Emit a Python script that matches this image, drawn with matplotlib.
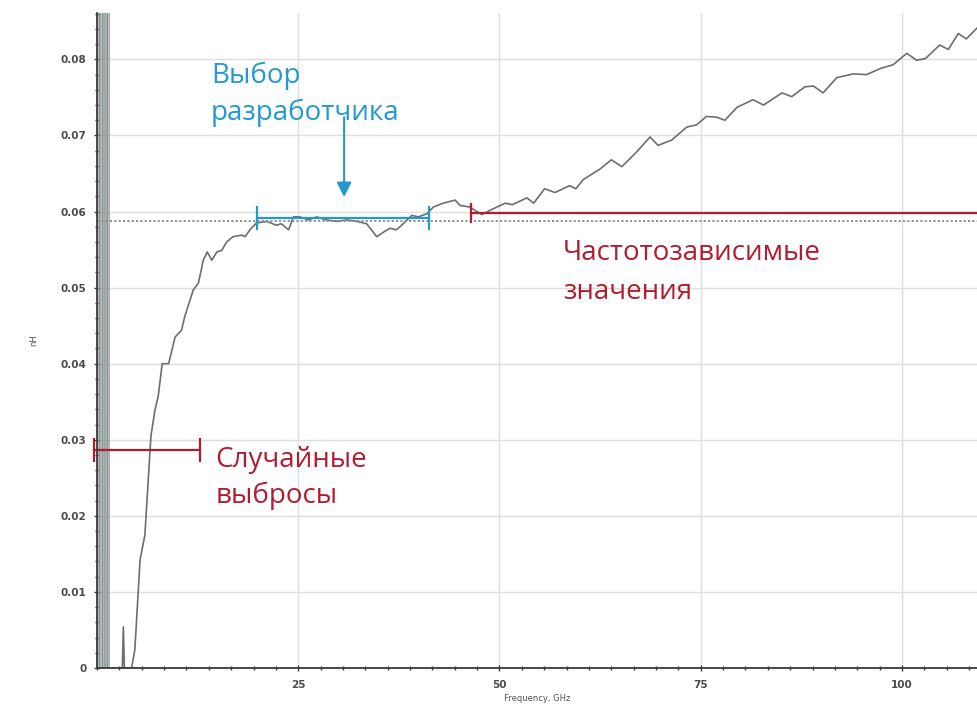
import matplotlib
matplotlib.use("Agg")
import matplotlib.pyplot as plt
from matplotlib.ticker import AutoMinorLocator, FixedLocator, FixedFormatter

# Inductance sweep (frequency in GHz, inductance in nH)
freq_outliers = [0.0, 0.2, 0.4, 0.6, 0.8, 1.0, 1.2, 1.4, 1.6]
ind_outliers = [1.0, -1.0, 1.0, -1.0, 1.0, -1.0, 1.0, -1.0, 1.0]

freq = [2.0, 3.15, 3.27, 3.4, 4.3, 4.7, 5.35, 5.95, 6.7, 7.2, 7.6, 8.1, 8.9,
        9.7, 10.5, 10.9, 11.96, 12.6, 13.2, 13.7, 14.25, 14.9, 15.5, 16.1,
        16.9, 18.0, 18.4, 19.0, 19.8, 21.1, 22.3, 22.9, 23.8, 24.4, 25.2,
        26.3, 27.3, 28.5, 29.8, 31.0, 32.3, 33.5, 34.75, 35.6, 36.4, 37.2,
        38.05, 39.1, 39.9, 40.96, 41.8, 43.0, 44.5, 45.1, 46.3, 47.8, 48.9,
        50.7, 51.6, 53.4, 54.25, 55.6, 56.9, 58.7, 59.5, 60.4, 62.5, 63.9,
        65.2, 67.0, 68.7, 69.7, 71.4, 73.25, 74.5, 75.7, 77.0, 78.0, 79.5,
        81.5, 82.8, 85.1, 86.3, 87.95, 89.0, 90.2, 91.9, 93.95, 95.6, 97.3,
        98.9, 100.6, 101.8, 102.9, 104.7, 105.75, 107.0, 108.0, 109.3]
inductance = [0.0, 0.0, 0.0054, 0.0, 0.0, 0.0024, 0.0142, 0.0175, 0.0305,
              0.0339, 0.0357, 0.0400, 0.0400, 0.0435, 0.0444, 0.0462, 0.0497,
              0.0506, 0.0536, 0.0547, 0.0536, 0.0547, 0.0549, 0.0560, 0.0567,
              0.0569, 0.0567, 0.0576, 0.0585, 0.0587, 0.0582, 0.0584, 0.0576,
              0.0593, 0.0593, 0.0589, 0.0593, 0.0589, 0.0587, 0.0589, 0.0587,
              0.0584, 0.0567, 0.0573, 0.0578, 0.0576, 0.0584, 0.0595, 0.0593,
              0.0597, 0.0606, 0.0611, 0.0615, 0.0608, 0.0606, 0.0596, 0.0602,
              0.0611, 0.0609, 0.0618, 0.0611, 0.0630, 0.0625, 0.0634, 0.0630,
              0.0642, 0.0656, 0.0668, 0.0659, 0.0678, 0.0698, 0.0687, 0.0694,
              0.0711, 0.0714, 0.0725, 0.0724, 0.0720, 0.0737, 0.0747, 0.0740,
              0.0756, 0.0751, 0.0764, 0.0765, 0.0756, 0.0776, 0.0781, 0.0780,
              0.0788, 0.0793, 0.0808, 0.0799, 0.0801, 0.0819, 0.0813, 0.0834,
              0.0827, 0.0841]

reference_level = 0.0587

x_ticks = [25, 50, 75, 100]
x_tick_labels = ["25", "50", "75", "100"]
y_ticks = [0, 0.01, 0.02, 0.03, 0.04, 0.05, 0.06, 0.07, 0.08]
y_tick_labels = ["0", "0.01", "0.02", "0.03", "0.04", "0.05", "0.06", "0.07", "0.08"]

# Annotated frequency ranges: (start GHz, end GHz, level nH)
designer_range = (19.84, 41.28, 0.0591)
outlier_range = (-0.33, 12.8, 0.0287)
dispersive_range = (46.4, 109.32, 0.0598)

BLUE = "#2399d0"
RED = "#b11d2f"
CURVE = "#6e6e6e"
TEXT_FONT = ["Open Sans", "DejaVu Sans"]

fig = plt.figure(figsize=(9.77, 7.04), dpi=100)
ax = fig.add_axes([97 / 977, 1 - 668 / 704, 880 / 977, 655 / 704])

ax.set_xlim(0, 109.32)
ax.set_ylim(0, 0.0861)

ax.grid(True, which="major", color="#dedede", linewidth=1.0)
ax.set_axisbelow(True)

ax.plot(freq_outliers, ind_outliers, color="#869292", linewidth=0.9)
ax.plot(freq, inductance, color=CURVE, linewidth=1.2)
ax.axhline(reference_level, color="#8a8a8a", linestyle=(0, (1.2, 1.2)), linewidth=1.3)

# Range brackets
x0, x1, y = designer_range
ax.plot([x0, x1], [y, y], color=BLUE, linewidth=1.6, marker="|",
        markersize=17, markeredgewidth=1.6)
x0, x1, y = outlier_range
ax.plot([x0, x1], [y, y], color=RED, linewidth=1.6, marker="|",
        markersize=17, markeredgewidth=1.6, clip_on=False)
x0, x1, y = dispersive_range
ax.plot([x0, x1], [y, y], color=RED, linewidth=1.6, clip_on=False)
ax.plot([x0], [y], color=RED, marker="|", markersize=14, markeredgewidth=1.6)

ax.annotate("", xy=(30.7, 0.0619), xytext=(30.7, 0.0724),
            arrowprops=dict(arrowstyle="-|>", color=BLUE, linewidth=1.5,
                            mutation_scale=22, shrinkA=0, shrinkB=0))

ax.text(14.16, 0.0769, "Выбор", color=BLUE, fontsize=20, family=TEXT_FONT, va="baseline")
ax.text(14.16, 0.0720, "разработчика", color=BLUE, fontsize=20, family=TEXT_FONT, va="baseline")
ax.text(14.7, 0.0264, "Случайные", color=RED, fontsize=20, family=TEXT_FONT, va="baseline")
ax.text(14.7, 0.0217, "выбросы", color=RED, fontsize=20, family=TEXT_FONT, va="baseline")
ax.text(57.9, 0.0536, "Частотозависимые", color=RED, fontsize=20, family=TEXT_FONT, va="baseline")
ax.text(57.9, 0.0485, "значения", color=RED, fontsize=20, family=TEXT_FONT, va="baseline")

# Axes styling
for side in ("top", "right"):
    ax.spines[side].set_visible(False)
for side in ("left", "bottom"):
    ax.spines[side].set_color("#3a3a3a")
    ax.spines[side].set_linewidth(1.3)

ax.xaxis.set_major_locator(FixedLocator(x_ticks))
ax.xaxis.set_major_formatter(FixedFormatter(x_tick_labels))
ax.yaxis.set_major_locator(FixedLocator(y_ticks))
ax.yaxis.set_major_formatter(FixedFormatter(y_tick_labels))
ax.xaxis.set_minor_locator(AutoMinorLocator(9))
ax.yaxis.set_minor_locator(AutoMinorLocator(5))

ax.tick_params(which="both", direction="inout", color="#3a3a3a", width=1.0)
ax.tick_params(which="major", length=5)
ax.tick_params(which="minor", length=3)
ax.tick_params(axis="y", which="major", pad=5, labelsize=7.5, labelcolor="#4a4a4a")
ax.tick_params(axis="x", which="major", pad=6, labelsize=7.5, labelcolor="#4a4a4a")
for lbl in ax.get_xticklabels() + ax.get_yticklabels():
    lbl.set_fontweight("bold")

ax.set_xlabel("Frequency, GHz", fontsize=6, color="#555555", labelpad=3)
ax.set_ylabel("nH", fontsize=6, color="#555555", labelpad=16)

fig.savefig("out.png", dpi=100, facecolor="white")
